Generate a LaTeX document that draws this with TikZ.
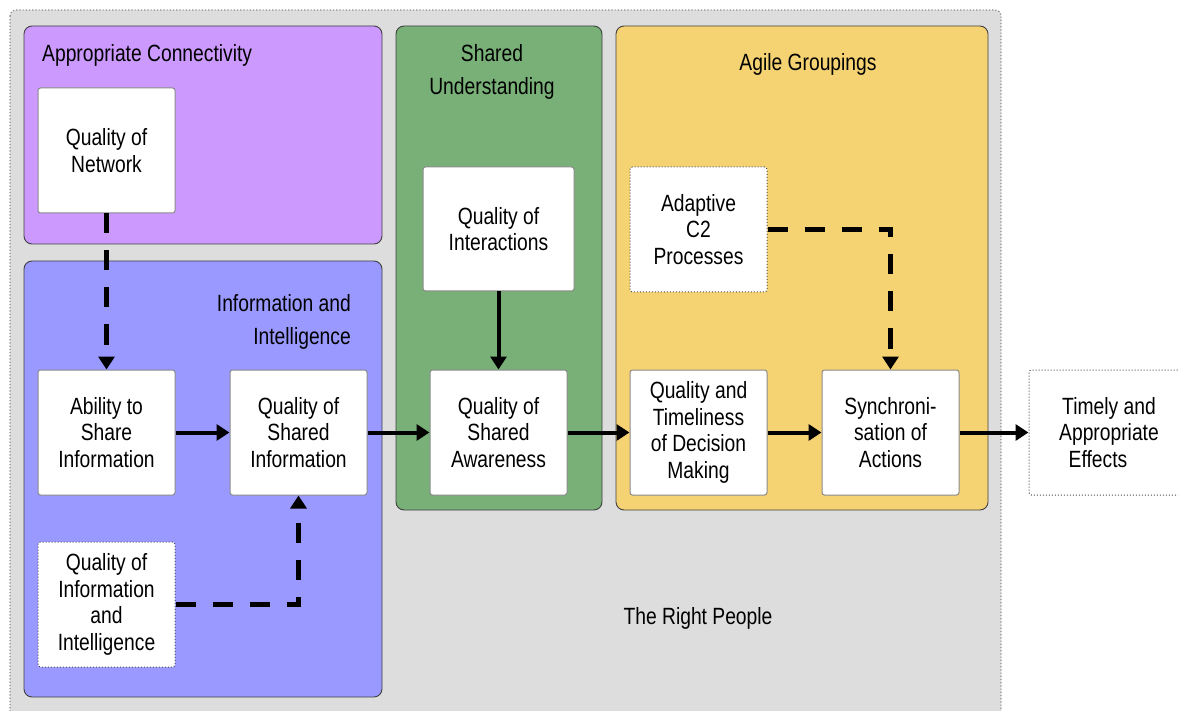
\documentclass[tikz,border=0pt]{standalone}
\usepackage{fontspec}
\setmainfont{Liberation Sans}[FakeStretch=0.82]
\usetikzlibrary{arrows.meta}
\definecolor{panelgray}{HTML}{DDDDDD}
\definecolor{connpurple}{HTML}{CC99FF}
\definecolor{infoblue}{HTML}{9999FF}
\definecolor{sharedgreen}{HTML}{78B078}
\definecolor{agileyellow}{HTML}{F5D272}
\definecolor{boxedge}{HTML}{8A8A8A}
\tikzset{
  x=1pt, y=-1pt,
  group/.style={draw=black!75, line width=0.9pt, rounded corners=8pt},
  box/.style={draw=boxedge, line width=1pt, fill=white, rounded corners=2.5pt,
    align=center, inner sep=2pt, font=\fontsize{23.5}{26.5}\selectfont},
  dotbox/.style={box, dotted, draw=black!70},
  title/.style={font=\fontsize{23.5}{33}\selectfont, align=center, inner sep=0pt},
  flow/.style={line width=4pt, -{Triangle[length=13pt,width=16pt]}},
  dflow/.style={line width=4.5pt, dash pattern=on 20pt off 17pt,
    -{Triangle[length=13pt,width=16pt]}},
}
\begin{document}
\begin{tikzpicture}
\useasboundingbox (0,0) rectangle (1178,711);
\clip (0,0) rectangle (1178,711);

% outer panel
\draw[fill=panelgray, draw=black!45, dotted, line width=1.2pt, rounded corners=6pt]
  (10,10) rectangle (1001,740);

% coloured groups
\draw[group, fill=connpurple] (24,26) rectangle (382,244);
\draw[group, fill=infoblue] (24,261) rectangle (382,697);
\draw[group, fill=sharedgreen] (396,26) rectangle (602,510);
\draw[group, fill=agileyellow] (616,26) rectangle (988,510);

% group titles
\node[title, anchor=west] (tconn) at (42,55) {Appropriate Connectivity};
\node[title, align=right, anchor=north east] (tinfo) at (351,294) {Information and\\Intelligence};
\node[title] (tshared) at (492,72) {Shared\\Understanding};
\node[title] (tagile) at (808,64) {Agile Groupings};
\node[title] (tpeople) at (698,618) {The Right People};

% factor boxes
\node[box, minimum width=137pt, minimum height=125pt] (net) at (106.5,150.5) {Quality of\\Network};
\node[box, minimum width=137pt, minimum height=125pt] (share) at (106.5,432.5) {Ability to\\Share\\Information};
\node[box, minimum width=137pt, minimum height=125pt] (sinfo) at (298.5,432.5) {Quality of\\Shared\\Information};
\node[dotbox, minimum width=137pt, minimum height=125pt] (qii) at (106.5,604.5) {Quality of\\Information\\and\\Intelligence};
\node[box, minimum width=151pt, minimum height=124pt] (inter) at (498.5,229) {Quality of\\Interactions};
\node[box, minimum width=137pt, minimum height=125pt] (aware) at (498.5,432.5) {Quality of\\Shared\\Awareness};
\node[dotbox, minimum width=137pt, minimum height=125pt] (adapt) at (698.5,229.5) {Adaptive\\C2\\Processes};
\node[box, minimum width=137pt, minimum height=125pt] (decide) at (698.5,432.5) {Quality and\\Timeliness\\of Decision\\Making};
\node[box, minimum width=137pt, minimum height=125pt] (sync) at (890.5,432.5) {Synchroni-\\sation of\\Actions};
\node[dotbox, minimum width=160pt, minimum height=125pt] (effects) at (1109,432.5) {Timely and\\Appropriate\\Effects\hspace*{22pt}};

% connectors
\draw[dflow] (net) -- (share);
\draw[flow] (share) -- (sinfo);
\draw[flow] (sinfo) -- (aware);
\draw[flow] (inter) -- (aware);
\draw[flow] (aware) -- (decide);
\draw[flow] (decide) -- (sync);
\draw[flow] (sync) -- (effects);
\draw[dflow] (adapt.east) -| (sync.north);
\draw[dflow] (qii.east) -| (sinfo.south);
\end{tikzpicture}
\end{document}
